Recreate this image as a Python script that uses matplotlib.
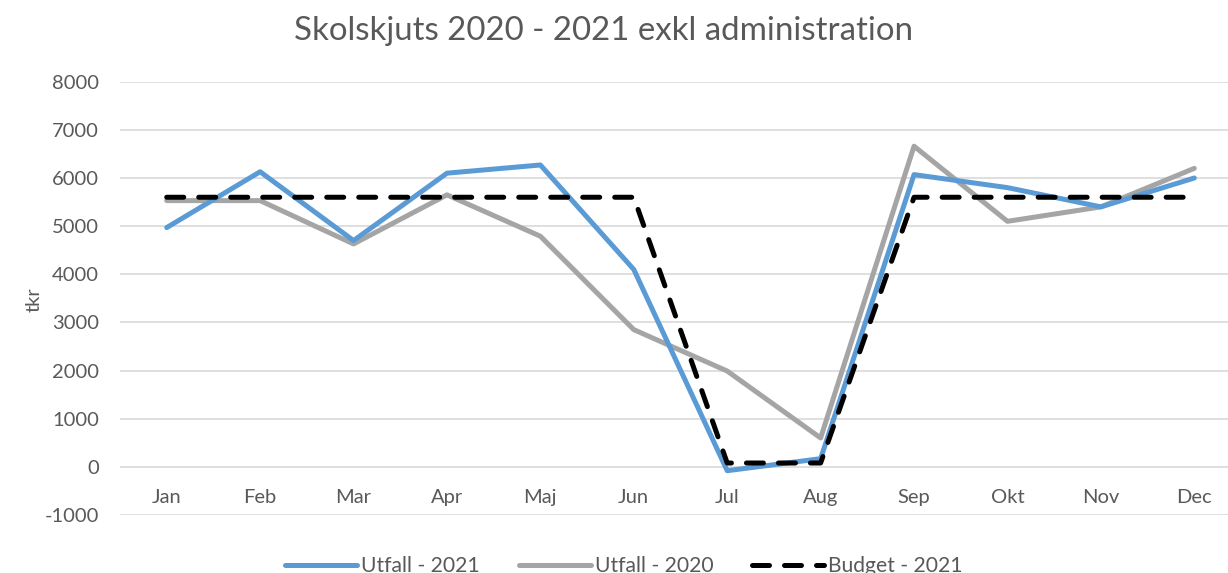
import matplotlib
matplotlib.use("Agg")
import matplotlib.pyplot as plt

months = ["Jan", "Feb", "Mar", "Apr", "Maj", "Jun", "Jul", "Aug", "Sep", "Okt", "Nov", "Dec"]
utfall_2021 = [4970, 6130, 4700, 6100, 6270, 4100, -80, 170, 6070, 5800, 5400, 6000]
utfall_2020 = [5530, 5530, 4630, 5650, 4790, 2850, 1990, 600, 6660, 5100, 5400, 6200]
budget_2021 = [5600, 5600, 5600, 5600, 5600, 5600, 80, 80, 5600, 5600, 5600, 5600]
yticks = [-1000, 0, 1000, 2000, 3000, 4000, 5000, 6000, 7000, 8000]

FONT = "Lato"
TXT = "#595959"
W, H = 1228, 573
fig = plt.figure(figsize=(W / 100, H / 100), dpi=100)
left, right = 120, 1241
top, bottom = 81.7, 515
ax = fig.add_axes([left / W, 1 - bottom / H, (right - left) / W, (bottom - top) / H])

x = list(range(len(months)))
l1, = ax.plot(x, utfall_2021, color="#5B9BD5", lw=3.6, solid_capstyle="round", solid_joinstyle="round", zorder=3)
l2, = ax.plot(x, utfall_2020, color="#A5A5A5", lw=3.6, solid_capstyle="round", solid_joinstyle="round", zorder=2)
l3, = ax.plot(x, budget_2021, color="black", lw=3.6, dash_capstyle="round", dash_joinstyle="round",
              linestyle=(0, (3.4, 3.0)), zorder=4)

ax.set_xlim(-0.5, 11.5)
ax.set_ylim(-1000, 8000)
ax.spines["bottom"].set_position(("data", 0))
for s in ax.spines.values():
    s.set_visible(False)
ax.set_yticks(yticks)
ax.set_yticklabels([str(v) for v in yticks])
ax.set_xticks(x)
ax.set_xticklabels(months)
for lab in ax.get_xticklabels() + ax.get_yticklabels():
    lab.set_fontfamily(FONT)
    lab.set_fontsize(14.5)
    lab.set_color(TXT)
ax.tick_params(axis="both", length=0)
ax.tick_params(axis="y", pad=15)
ax.tick_params(axis="x", pad=16)
ax.grid(axis="y", color="#D9D9D9", lw=1.2)
ax.set_axisbelow(True)

fig.text(34 / W, 1 - 300 / H, "tkr", rotation=90, ha="center", va="center",
         fontfamily=FONT, fontsize=14.5, color=TXT)
fig.text(603 / W, 1 - 31 / H, "Skolskjuts 2020 - 2021 exkl administration", ha="center", va="center",
         fontfamily=FONT, fontsize=23.8, color=TXT)

leg = fig.legend([l1, l2, l3], ["Utfall - 2021", "Utfall - 2020", "Budget - 2021"],
                 loc="center", bbox_to_anchor=(624 / W, 1 - 566 / H), ncol=3, frameon=False,
                 prop={"family": FONT, "size": 15.2}, handlelength=3.4, columnspacing=1.85,
                 handletextpad=0.2)
for t in leg.get_texts():
    t.set_color(TXT)

fig.savefig("out.png", dpi=100)
